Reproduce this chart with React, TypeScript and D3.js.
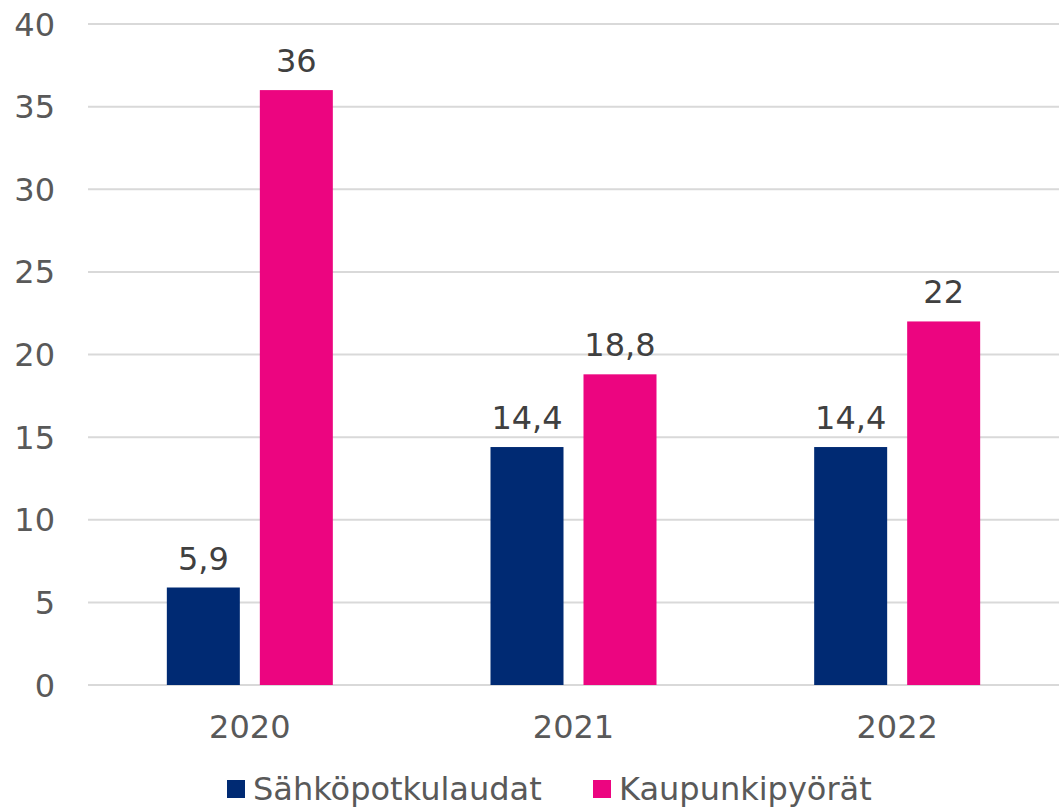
import React from "react";
import * as d3 from "d3";

const categories = ["2020", "2021", "2022"];
const seriesNames = ["Sähköpotkulaudat", "Kaupunkipyörät"];
const scooters = [5.9, 14.4, 14.4];
const bikes = [36, 18.8, 22];
const yTicks = [0, 5, 10, 15, 20, 25, 30, 35, 40];
const colors = ["#002A73", "#EC0580"];

const W = 1059;
const H = 807;
const FONT = "Verdana, 'DejaVu Sans', sans-serif";

export default function App() {
  const x0 = d3.scaleBand<string>().domain(categories).range([88, 1059]).padding(0);
  const groupW = 166;
  const x1 = d3.scaleBand<string>().domain(seriesNames).range([0, groupW]).paddingInner(0.215);
  const y = d3.scaleLinear().domain([0, 40]).range([685, 24]);
  const values = [scooters, bikes];
  const fmt = (v: number) => String(v).replace(".", ",");

  return (
    <svg width={W} height={H} style={{ position: "absolute", left: 0, top: 0, background: "#fff" }} fontFamily={FONT}>
      {yTicks.map((t) => (
        <g key={t}>
          <line x1={88} x2={1059} y1={y(t)} y2={y(t)} stroke="#D9D9D9" strokeWidth={2} />
          <text x={55} y={y(t)} dy="0.36em" textAnchor="end" fontSize={32} fill="#595959">
            {t}
          </text>
        </g>
      ))}
      {categories.map((c, i) => {
        const gx = (x0(c) as number) + x0.bandwidth() / 2 - groupW / 2;
        return (
          <g key={c}>
            {seriesNames.map((s, si) => {
              const v = values[si][i];
              const bx = gx + (x1(s) as number);
              return (
                <g key={s}>
                  <rect x={bx} y={y(v)} width={x1.bandwidth()} height={y(0) - y(v)} fill={colors[si]} />
                  <text x={bx + x1.bandwidth() / 2} y={y(v) - 18} textAnchor="middle" fontSize={32} fill="#404040">
                    {fmt(v)}
                  </text>
                </g>
              );
            })}
            <text x={(x0(c) as number) + x0.bandwidth() / 2} y={738} textAnchor="middle" fontSize={32} fill="#595959">
              {c}
            </text>
          </g>
        );
      })}
      {seriesNames.map((s, si) => {
        const lx = si === 0 ? 227 : 593;
        return (
          <g key={s}>
            <rect x={lx} y={780} width={18} height={18} fill={colors[si]} />
            <text x={lx + 26} y={800} fontSize={32} fill="#595959">
              {s}
            </text>
          </g>
        );
      })}
    </svg>
  );
}
